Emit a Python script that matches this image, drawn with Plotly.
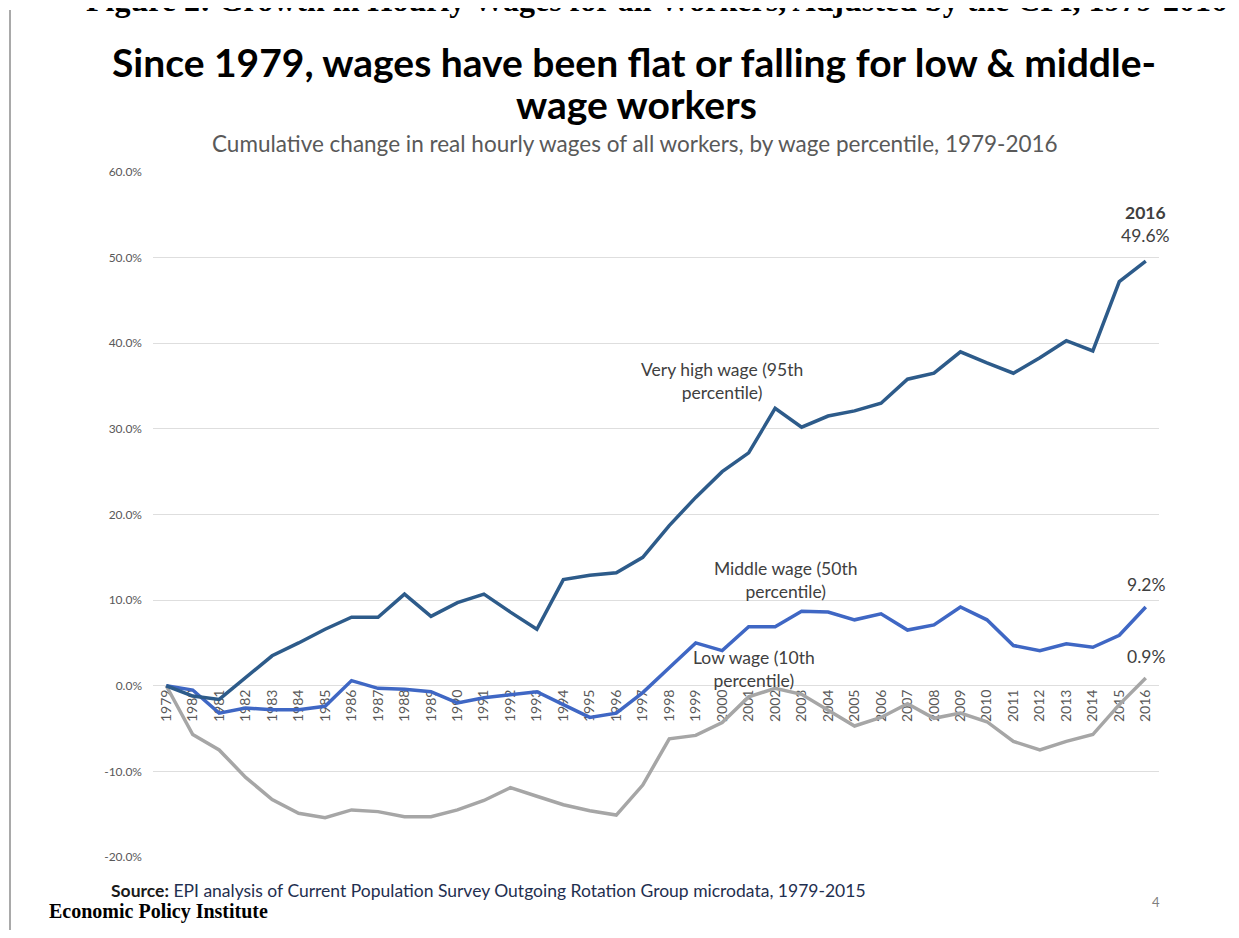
import plotly.graph_objects as go

years = list(range(1979, 2017))
very_high_95 = [0.0, -1.2, -1.6, 0.9, 3.5, 5.0, 6.6, 8.0, 8.0, 10.7, 8.1, 9.7, 10.7, 8.6, 6.6,
                12.4, 12.9, 13.2, 15.0, 18.7, 22.0, 25.0, 27.2, 32.4, 30.2, 31.5, 32.1, 33.0,
                35.8, 36.5, 39.0, 37.7, 36.5, 38.3, 40.3, 39.1, 47.2, 49.6]
middle_50 = [0.0, -0.5, -3.2, -2.6, -2.8, -2.8, -2.4, 0.6, -0.3, -0.4, -0.7, -2.0, -1.4, -1.1, -0.7,
             -2.2, -3.7, -3.2, -0.8, 2.1, 5.0, 4.1, 6.9, 6.9, 8.7, 8.6, 7.7, 8.4, 6.5, 7.1, 9.2,
             7.7, 4.7, 4.1, 4.9, 4.5, 5.9, 9.2]
low_10 = [0.0, -5.7, -7.5, -10.7, -13.3, -14.9, -15.4, -14.5, -14.7, -15.3, -15.3, -14.5, -13.4,
          -11.9, -12.9, -13.9, -14.6, -15.1, -11.6, -6.2, -5.8, -4.3, -1.3, -0.3, -1.0, -2.8,
          -4.7, -3.7, -2.1, -3.8, -3.2, -4.2, -6.5, -7.5, -6.5, -5.7, -2.2, 0.9]
y_ticks = [-20, -10, 0, 10, 20, 30, 40, 50, 60]

C95 = "#2d5b8a"
C50 = "#3f67c4"
C10 = "#a6a6a6"
TXT = "#404040"
FONT = "Lato"
AF = 17.5

fig = go.Figure()
fig.add_trace(go.Scatter(x=years, y=low_10, mode="lines", line=dict(color=C10, width=3.5),
                         name="Low wage (10th percentile)"))
fig.add_trace(go.Scatter(x=years, y=middle_50, mode="lines", line=dict(color=C50, width=3.5),
                         name="Middle wage (50th percentile)"))
fig.add_trace(go.Scatter(x=years, y=very_high_95, mode="lines", line=dict(color=C95, width=3.5),
                         name="Very high wage (95th percentile)"))

OFF = 8  # page body margin
W, H = 1223, 922
L = 153 - OFF
T = 172 - OFF
R = W - (1159 - OFF)
B = H - (857 - OFF)
PW, PH = W - L - R, H - T - B


def px(x):  # page pixel -> paper x
    return (x - OFF - L) / PW


def py(y):  # page pixel -> paper y
    return (H - B - (y - OFF)) / PH


anns = []
# header (cut off at top of page)
anns.append(dict(text="<b>Figure 2: Growth in Hourly Wages for all Workers, Adjusted by the CPI, 1979-2016</b>",
                 x=px(656), y=py(20), xref="paper", yref="paper", xanchor="center", yanchor="bottom",
                 showarrow=False, font=dict(family="Liberation Serif", size=32, color="#000000")))
# title
anns.append(dict(text="<b>Since 1979, wages have been flat or falling for low &amp; middle-</b>",
                 x=px(634), y=py(62), xref="paper", yref="paper", xanchor="center", yanchor="middle",
                 showarrow=False, font=dict(family=FONT, size=39, color="#000000")))
anns.append(dict(text="<b>wage workers</b>",
                 x=px(636), y=py(104), xref="paper", yref="paper", xanchor="center", yanchor="middle",
                 showarrow=False, font=dict(family=FONT, size=39, color="#000000")))
anns.append(dict(text="Cumulative change in real hourly wages of all workers, by wage percentile, 1979-2016",
                 x=px(635), y=py(144), xref="paper", yref="paper", xanchor="center", yanchor="middle",
                 showarrow=False, font=dict(family=FONT, size=22.5, color="#595959")))
# series labels
anns.append(dict(text="Very high wage (95th<br>percentile)", x=2000.0, y=35.6, xref="x", yref="y",
                 showarrow=False, font=dict(family=FONT, size=AF, color=TXT)))
anns.append(dict(text="Middle wage (50th<br>percentile)", x=2002.4, y=12.3, xref="x", yref="y",
                 showarrow=False, font=dict(family=FONT, size=AF, color=TXT)))
anns.append(dict(text="Low wage (10th<br>percentile)", x=2001.2, y=1.9, xref="x", yref="y",
                 showarrow=False, font=dict(family=FONT, size=AF, color=TXT)))
# end labels
anns.append(dict(text="<b>2016</b><br>%.1f%%" % very_high_95[-1], x=years[-1], y=very_high_95[-1],
                 xref="x", yref="y", yanchor="bottom", yshift=13, showarrow=False,
                 font=dict(family=FONT, size=AF, color=TXT)))
anns.append(dict(text="%.1f%%" % middle_50[-1], x=years[-1], y=middle_50[-1],
                 xref="x", yref="y", yanchor="bottom", yshift=10, showarrow=False,
                 font=dict(family=FONT, size=AF, color=TXT)))
anns.append(dict(text="%.1f%%" % low_10[-1], x=years[-1], y=low_10[-1],
                 xref="x", yref="y", yanchor="bottom", yshift=9, showarrow=False,
                 font=dict(family=FONT, size=AF, color=TXT)))
# source
anns.append(dict(text="<b><span style='color:#1a1a1a'>Source:</span></b> EPI analysis of Current Population Survey Outgoing Rotation Group microdata, 1979-2015",
                 x=px(109), y=py(890), xref="paper", yref="paper", xanchor="left", yanchor="middle",
                 showarrow=False, font=dict(family=FONT, size=17.5, color="#1f2f50")))
anns.append(dict(text="<b>Economic Policy Institute</b>",
                 x=px(47), y=py(911), xref="paper", yref="paper", xanchor="left", yanchor="middle",
                 showarrow=False, font=dict(family="Liberation Serif", size=20, color="#000000")))
anns.append(dict(text="4", x=px(1156), y=py(902), xref="paper", yref="paper", xanchor="center",
                 yanchor="middle", showarrow=False, font=dict(family=FONT, size=13, color="#7f7f7f")))

fig.update_layout(
    width=W, height=H,
    margin=dict(l=L, r=R, t=T, b=B, autoexpand=False),
    paper_bgcolor="white", plot_bgcolor="white",
    showlegend=False,
    annotations=anns,
    shapes=[dict(type="line", xref="paper", yref="paper", x0=px(10), x1=px(10), y0=py(H + 40),
                 y1=py(10), line=dict(color="#8c8c8c", width=1.5))],
    xaxis=dict(range=[1978.5, 2016.5], tickmode="array", tickvals=years,
               ticktext=[str(y) for y in years], tickangle=-90, showgrid=False, zeroline=False,
               showline=False, ticks="", anchor="free", position=0.25, layer="below traces",
               tickfont=dict(family=FONT, size=14, color="#595959")),
    yaxis=dict(range=[-20, 60], tickvals=y_ticks, ticktext=["%.1f%%" % v for v in y_ticks],
               showgrid=True, gridcolor="#dedede", gridwidth=1, zeroline=False, showline=False,
               ticks="", ticklabelstandoff=10,
               tickfont=dict(family=FONT, size=12, color="#595959")),
)

fig.write_html("out.html")
